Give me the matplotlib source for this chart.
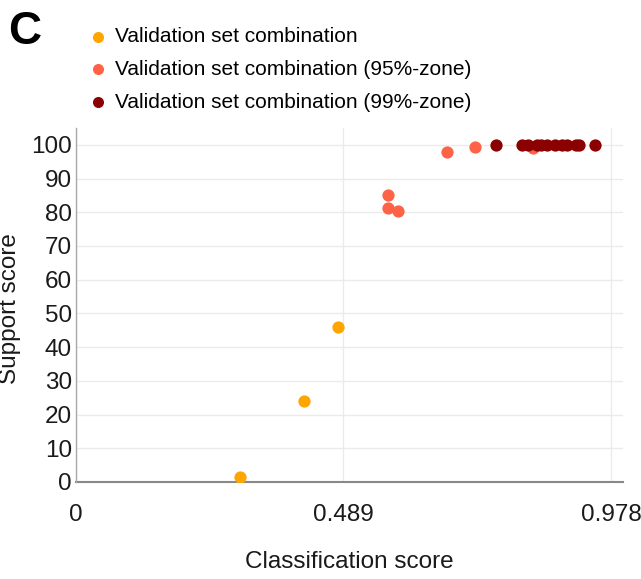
import matplotlib
matplotlib.use("Agg")
import matplotlib.pyplot as plt

plt.rcParams["font.family"] = ["Liberation Sans", "DejaVu Sans"]

# series
base_x = [0.300, 0.417, 0.479]
base_y = [1.5, 24.0, 46.0]
zone95_x = [0.570, 0.570, 0.589, 0.678, 0.729, 0.835]
zone95_y = [85.2, 81.3, 80.4, 97.8, 99.4, 99.2]
zone99_x = [0.768, 0.815, 0.827, 0.842, 0.851, 0.861, 0.876, 0.888, 0.897, 0.914, 0.920, 0.949]
zone99_y = [100] * 12

labels = ["Validation set combination",
          "Validation set combination (95%-zone)",
          "Validation set combination (99%-zone)"]
colors = ["#FFA500", "#FF6347", "#8B0000"]
xticks = [0, 0.489, 0.978]
yticks = list(range(0, 101, 10))

fig = plt.figure(figsize=(6.41, 5.79), dpi=100)
ax = fig.add_axes([76 / 641, 1 - 482 / 579, 547 / 641, 354 / 579])

ax.scatter(base_x, base_y, s=78, color=colors[0], label=labels[0], zorder=3, linewidths=0)
ax.scatter(zone95_x, zone95_y, s=78, color=colors[1], label=labels[1], zorder=3, linewidths=0)
ax.scatter(zone99_x, zone99_y, s=78, color=colors[2], label=labels[2], zorder=4, linewidths=0)

ax.set_xlim(0, 1.0)
ax.set_ylim(0, 105)
ax.set_xticks(xticks)
ax.set_xticklabels(["0", "0.489", "0.978"])
ax.set_yticks(yticks)
ax.grid(True, color="#ebebeb", linewidth=1)
ax.set_axisbelow(True)
for s in ["top", "right"]:
    ax.spines[s].set_visible(False)
ax.spines["bottom"].set_color("#888888")
ax.spines["bottom"].set_linewidth(1.5)
ax.spines["bottom"].set_zorder(2)
ax.spines["left"].set_color("#aaaaaa")
ax.spines["left"].set_linewidth(1.0)
ax.tick_params(length=0, labelsize=17.5, colors="#1a1a1a", pad=3)
ax.tick_params(axis="x", pad=16)

ax.set_xlabel("Classification score", fontsize=17.5, color="#1a1a1a", va="center")
ax.set_ylabel("Support score", fontsize=17.5, color="#1a1a1a", va="center")
ax.xaxis.set_label_coords((349 - 76) / 547, -(562 - 482) / 354)
ax.yaxis.set_label_coords(-(76 - 10) / 547, (482 - 309) / 354)

fig.text(8 / 641, 1 - 10 / 579, "C", fontsize=33, fontweight="bold", va="top", ha="left")

ax.legend(loc="upper left", bbox_to_anchor=(82 / 641, 1 - 27 / 579), bbox_transform=fig.transFigure,
          frameon=False, fontsize=15, handletextpad=0.1, labelspacing=0.67,
          markerscale=0.9, handlelength=1.5, borderaxespad=0, borderpad=0)

fig.savefig("out.png", dpi=100)
